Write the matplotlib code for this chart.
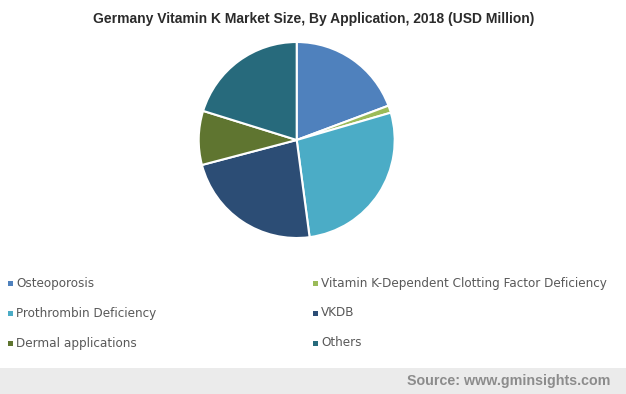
import matplotlib
matplotlib.use("Agg")
import matplotlib.pyplot as plt
from matplotlib.patches import Rectangle

categories = ["Osteoporosis", "Vitamin K-Dependent Clotting Factor Deficiency",
              "Prothrombin Deficiency", "VKDB", "Dermal applications", "Others"]
values = [19.3, 1.2, 27.4, 23.0, 8.9, 20.2]
colors = ["#4F81BD", "#9BBB59", "#4BACC6", "#2C4D75", "#5F7530", "#276A7C"]

W, H = 626, 394
fig = plt.figure(figsize=(W/100, H/100), dpi=100)
fig.patch.set_facecolor("white")

cx, cy, r = 296.7, 140, 98
ax = fig.add_axes([(cx - r)/W, 1 - (cy + r)/H, 2*r/W, 2*r/H])
ax.pie(values, colors=colors, startangle=90, counterclock=False,
       wedgeprops=dict(edgecolor="white", linewidth=1.5))
ax.set_xlim(-1, 1); ax.set_ylim(-1, 1)
ax.set_aspect("equal")
ax.axis("off")

fig.text(313.5/W, 1 - 19/H, "Germany Vitamin K Market Size, By Application, 2018 (USD Million)",
         ha="center", va="center", fontsize=10, fontweight="bold",
         family="Liberation Sans", color="#2B2B2B")

# legend
col_x = [8, 313]
row_y = [283, 313, 343]
for i, (name, c) in enumerate(zip(categories, colors)):
    x = col_x[i % 2]
    y = row_y[i // 2]
    fig.patches.append(Rectangle((x/W, 1 - (y + 2.5)/H), 5/W, 5/H,
                                 transform=fig.transFigure, facecolor=c, edgecolor="none"))
    fig.text((x + 8)/W, 1 - y/H, name, ha="left", va="center", fontsize=8.65,
             family="DejaVu Sans", color="#595959")

# footer
fig.patches.append(Rectangle((0, 0), 1, 26/H, transform=fig.transFigure,
                             facecolor="#EBEBEB", edgecolor="none"))
fig.text(610/W, 1 - 380.5/H, "Source: www.gminsights.com", ha="right", va="center",
         fontsize=10.3, fontweight="bold", family="Liberation Sans", color="#8C8C8C")

fig.savefig("out.png", dpi=100)
